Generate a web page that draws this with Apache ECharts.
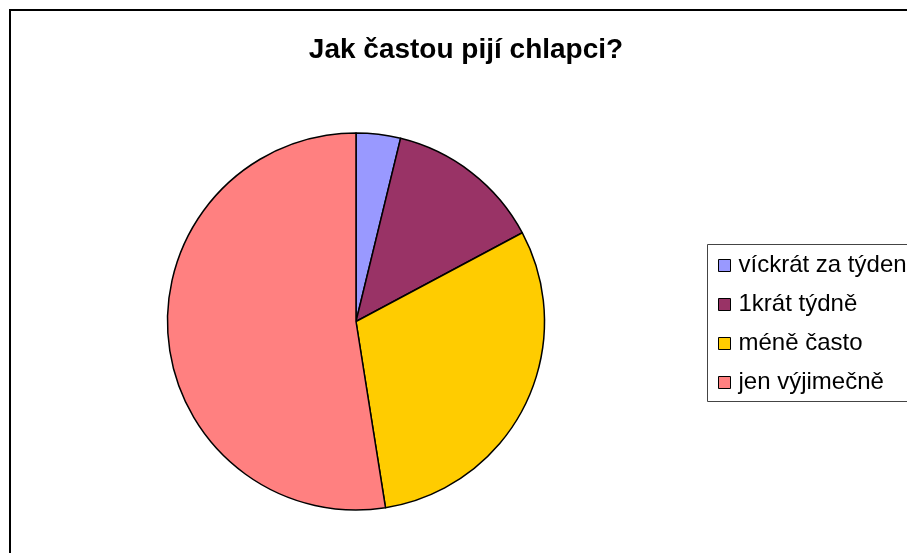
<!DOCTYPE html>
<html>
<head>
<meta charset="utf-8">
<script src="https://cdn.jsdelivr.net/npm/echarts@6/dist/echarts.min.js"></script>
<style>
html,body{margin:0;padding:0;background:#fff;}
#chart{width:907px;height:553px;}
</style>
</head>
<body>
<div id="chart"></div>
<script>
const titleText = 'Jak častou pijí chlapci?';
const categories = ['víckrát za týden', '1krát týdně', 'méně často', 'jen výjimečně'];
const values = [3.8, 13.4, 30.3, 52.5];
const colors = ['#9999FF', '#993366', '#FFCC00', '#FF8080'];

const chart = echarts.init(document.getElementById('chart'), null, {renderer: 'canvas'});
chart.setOption({
  animation: false,
  backgroundColor: '#fff',
  title: {
    text: titleText,
    left: 461,
    top: 31,
    textAlign: 'center',
    textStyle: {fontFamily: 'Liberation Sans, Arial, sans-serif', fontWeight: 'bold', fontSize: 28, color: '#000'}
  },
  graphic: [
    {type: 'rect', shape: {x: 10, y: 10, width: 1000, height: 1000}, style: {fill: 'none', stroke: '#000', lineWidth: 2}, z: 10},
    {type: 'rect', shape: {x: 707.5, y: 244.5, width: 400, height: 157}, style: {fill: 'none', stroke: '#444', lineWidth: 1}, z: 10}
  ],
  legend: {
    orient: 'vertical',
    left: 713,
    top: 252,
    padding: [0, 0, 0, 5],
    itemWidth: 12,
    itemHeight: 12,
    itemGap: 12,
    icon: 'rect',
    itemStyle: {borderColor: '#000', borderWidth: 1},
    textStyle: {fontFamily: 'Liberation Sans, Arial, sans-serif', fontSize: 24, color: '#000', lineHeight: 27, padding: [0, 0, 0, 3]},
    data: categories
  },
  series: [{
    type: 'pie',
    center: [356, 321.5],
    radius: [0, 188.5],
    startAngle: 90,
    clockwise: true,
    label: {show: false},
    labelLine: {show: false},
    emphasis: {disabled: true},
    itemStyle: {borderColor: '#000', borderWidth: 1.5},
    data: categories.map((c, i) => ({name: c, value: values[i], itemStyle: {color: colors[i]}}))
  }]
});
</script>
</body>
</html>
